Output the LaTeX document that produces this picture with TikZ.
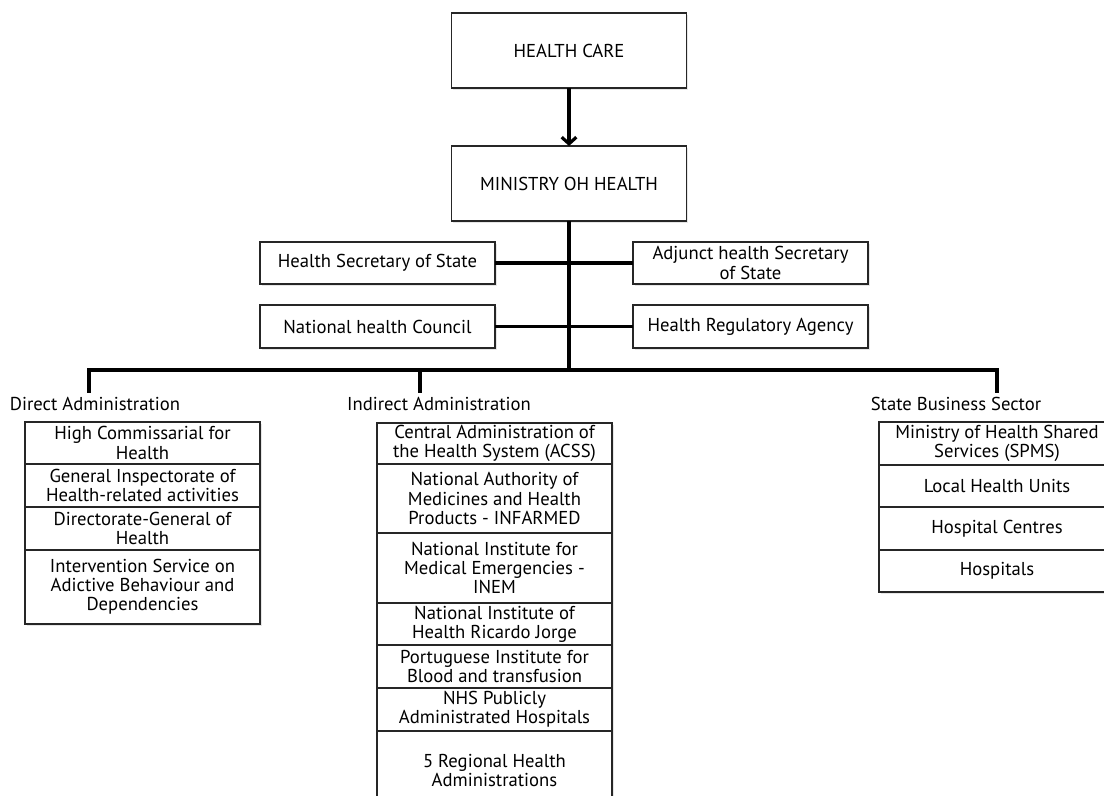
\documentclass[tikz,border=0pt]{standalone}
\usepackage{fontspec}
\setmainfont{PT Sans}
\usetikzlibrary{arrows.meta,positioning,shadows}

\begin{document}
\begin{tikzpicture}[x=0.75pt,y=-0.75pt,font=\fontsize{14}{14.4}\selectfont,
    box/.style={draw=black!85, line width=0.9pt, fill=white, align=center, inner sep=1pt, outer sep=0pt,
        drop shadow={shadow xshift=1.2pt, shadow yshift=-1.2pt, opacity=0.2}},
    wide/.style={box, minimum width=176.25pt},
    link/.style={line width=2.4pt},
    grouplab/.style={inner sep=3pt}]
    \useasboundingbox (0,0) rectangle (1104,796);
    % top of the chart
    \node [wide, minimum height=56.25pt] (care) at (569,50.5) {HEALTH CARE};
    \node [wide, minimum height=56.25pt] (moh) at (569,183.5) {MINISTRY OH HEALTH};
    \node [wide, minimum height=31.5pt] (hss) at (377.5,263) {Health Secretary of State};
    \node [wide, minimum height=31.5pt] (adj) at (750.5,263) {Adjunct health Secretary\\of State};
    \node [wide, minimum height=32.25pt] (nhc) at (377.5,326.5) {National health Council};
    \node [wide, minimum height=32.25pt] (hra) at (750.5,326.5) {Health Regulatory Agency};
    \coordinate (hub) at (569,370);
    \coordinate (dA) at (89,370);
    \coordinate (iA) at (420,370);
    \coordinate (sA) at (997,370);
    \draw [link,-{Straight Barb[length=5pt,width=11pt]}] (care) -- (moh);
    \draw [link] (moh) -- (hub);
    \draw [link] (hss) -- (adj);
    \draw [link] (nhc) -- (hra);
    % the three branches
    \node [grouplab] (dlab) at (95,404) {Direct Administration};
    \node [grouplab] (ilab) at (439,404) {Indirect Administration};
    \node [grouplab] (slab) at (956,404) {State Business Sector};
    \draw [link] (dA |- dlab.north) -- (dA) -- (sA) -- (sA |- slab.north);
    \draw [link] (iA) -- (iA |- ilab.north);
    % direct administration
    \node [wide, minimum height=31.5pt, anchor=north] (d1) at (142.5,422) {High Commissarial for\\Health};
    \node [wide, minimum height=32.25pt, below=0pt of d1] (d2) {General Inspectorate of\\Health-related activities};
    \node [wide, minimum height=32.25pt, below=0pt of d2] (d3) {Directorate-General of\\Health};
    \node [wide, minimum height=55.5pt, below=0pt of d3] (d4) {Intervention Service on\\Adictive Behaviour and\\Dependencies};
    % indirect administration
    \node [wide, minimum height=30.75pt, anchor=north] (i1) at (494.5,423) {Central Administration of\\the Health System (ACSS)};
    \node [wide, minimum height=51.75pt, below=0pt of i1] (i2) {National Authority of\\Medicines and Health\\Products - INFARMED};
    \node [wide, minimum height=52.5pt, below=0pt of i2] (i3) {National Institute for\\Medical Emergencies -\\INEM};
    \node [wide, minimum height=31.5pt, below=0pt of i3] (i4) {National Institute of\\Health Ricardo Jorge};
    \node [wide, minimum height=32.25pt, below=0pt of i4] (i5) {Portuguese Institute for\\Blood and transfusion};
    \node [wide, minimum height=32.25pt, below=0pt of i5] (i6) {NHS Publicly\\Administrated Hospitals};
    \node [wide, minimum height=59.25pt, below=0pt of i6] (i7) {5 Regional Health\\Administrations};
    % state business sector
    \node [box, minimum width=177pt, minimum height=32.25pt, anchor=north] (s1) at (997,422) {Ministry of Health Shared\\Services (SPMS)};
    \node [box, minimum width=177pt, minimum height=31.5pt, below=0pt of s1] (s2) {Local Health Units};
    \node [box, minimum width=177pt, minimum height=32.25pt, below=0pt of s2] (s3) {Hospital Centres};
    \node [box, minimum width=177pt, minimum height=31.5pt, below=0pt of s3] (s4) {Hospitals};
\end{tikzpicture}
\end{document}
